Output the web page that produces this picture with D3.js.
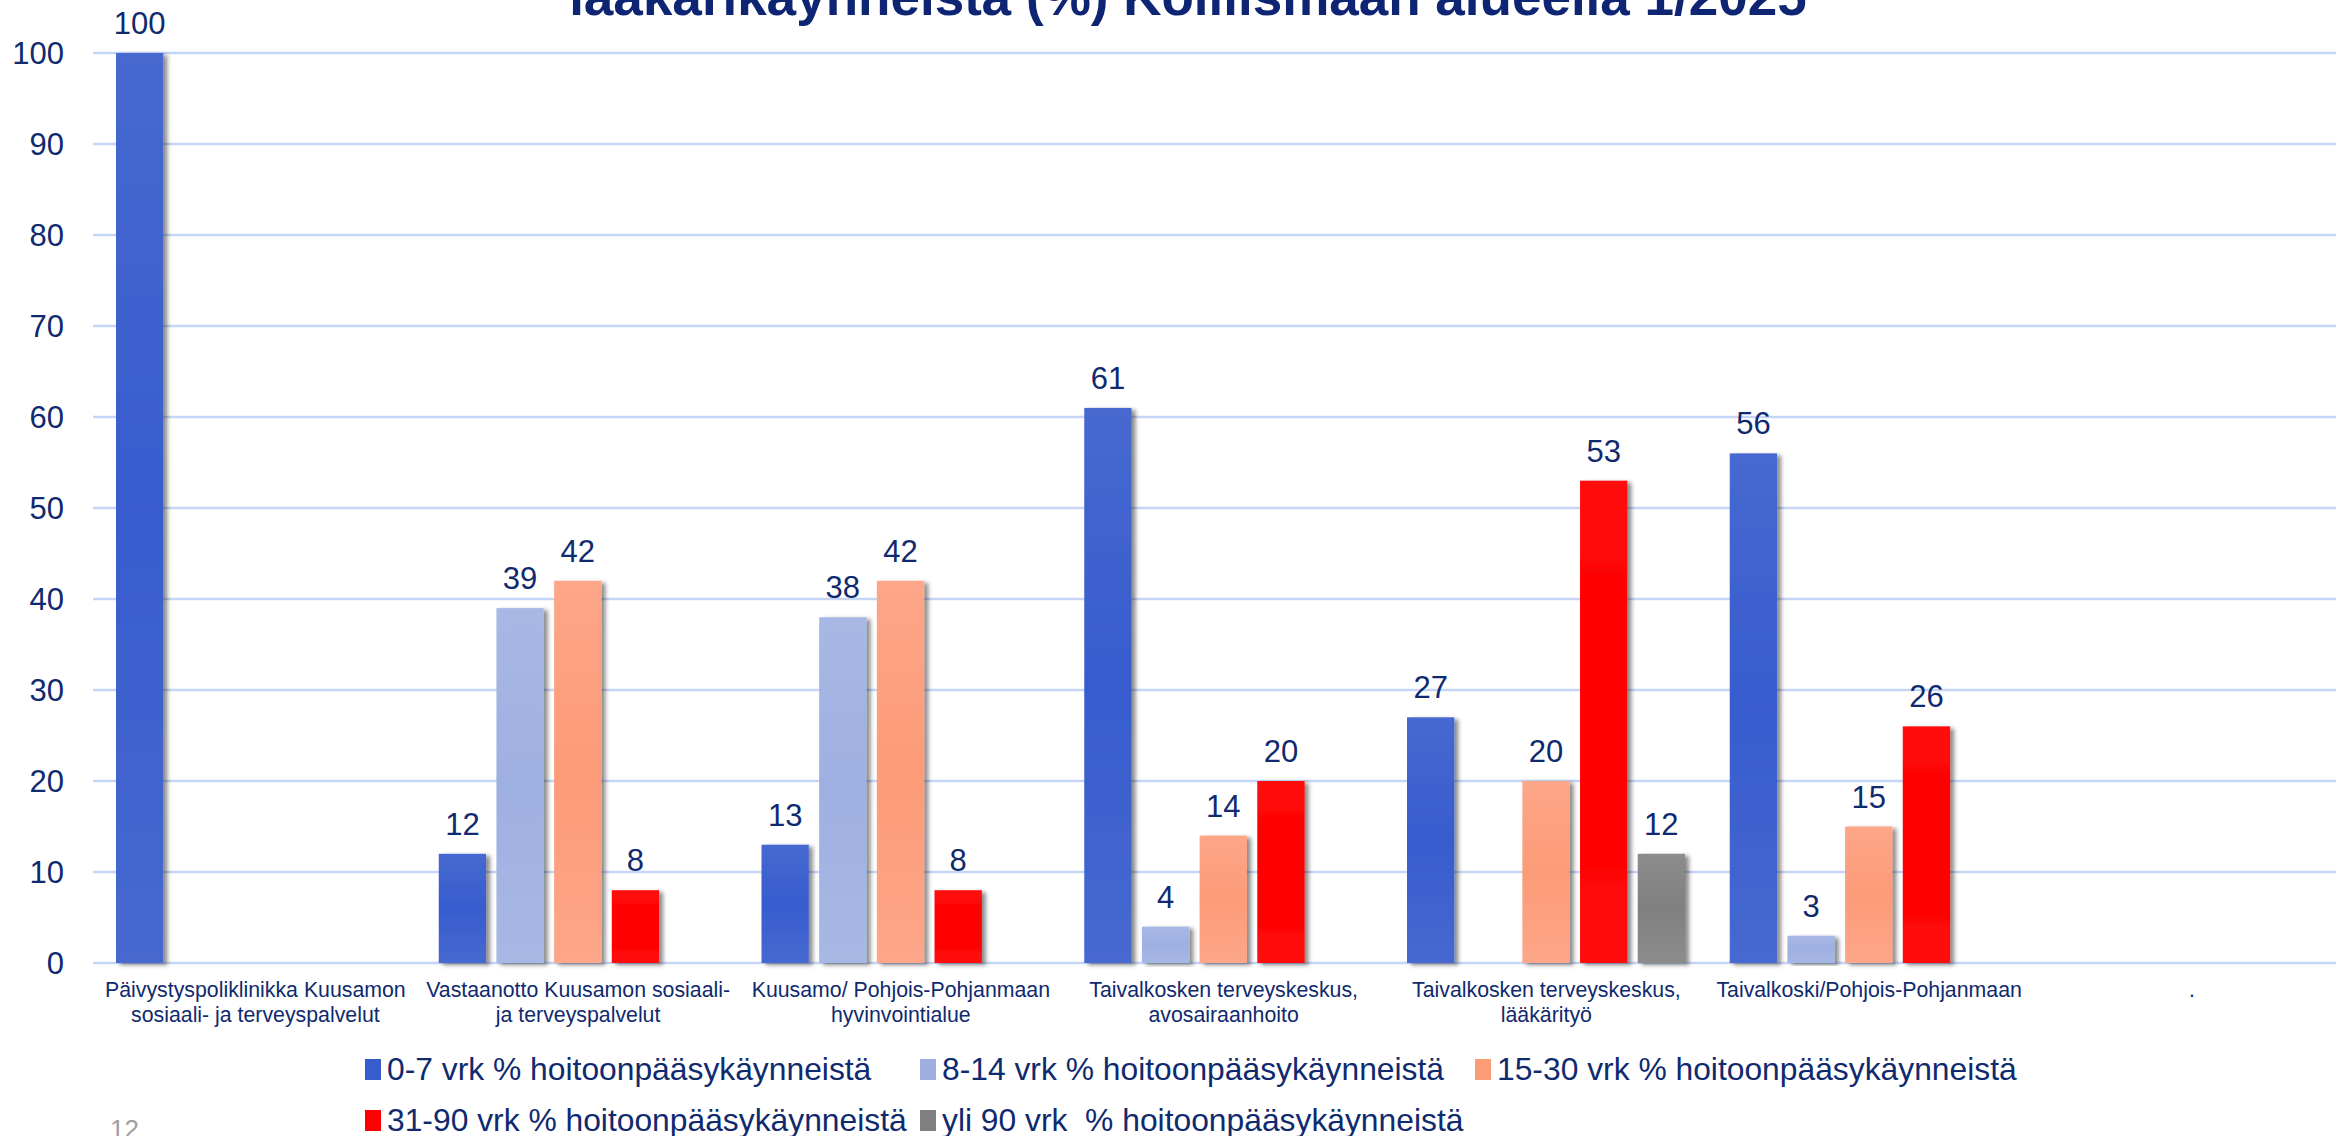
<!DOCTYPE html>
<html>
<head>
<meta charset="utf-8">
<script src="https://cdn.jsdelivr.net/npm/d3@7"></script>
<style>
  html, body { margin: 0; padding: 0; background: #fff; }
  svg { display: block; font-family: "Liberation Sans", Arial, sans-serif; }
</style>
</head>
<body>
<div id="chart"></div>
<script>
// categories (each label split into lines)
const categories = [
  ["Päivystyspoliklinikka Kuusamon", "sosiaali- ja terveyspalvelut"],
  ["Vastaanotto Kuusamon sosiaali-", "ja terveyspalvelut"],
  ["Kuusamo/ Pohjois-Pohjanmaan", "hyvinvointialue"],
  ["Taivalkosken terveyskeskus,", "avosairaanhoito"],
  ["Taivalkosken terveyskeskus,", "lääkärityö"],
  ["Taivalkoski/Pohjois-Pohjanmaan"],
  ["."]
];

const seriesNames = [
  "0-7 vrk % hoitoonpääsykäynneistä",
  "8-14 vrk % hoitoonpääsykäynneistä",
  "15-30 vrk % hoitoonpääsykäynneistä",
  "31-90 vrk % hoitoonpääsykäynneistä",
  "yli 90 vrk  % hoitoonpääsykäynneistä"
];

// values per series (null = no bar)
const vrk0_7   = [100, 12, 13, 61, 27, 56, null];
const vrk8_14  = [null, 39, 38, 4, null, 3, null];
const vrk15_30 = [null, 42, 42, 14, 20, 15, null];
const vrk31_90 = [null, 8, 8, 20, 53, 26, null];
const vrkYli90 = [null, null, null, null, 12, null, null];

const yTicks = [0, 10, 20, 30, 40, 50, 60, 70, 80, 90, 100];

const seriesValues = [vrk0_7, vrk8_14, vrk15_30, vrk31_90, vrkYli90];
const colors = ["#375cce", "#9eafe1", "#fc9b78", "#ff0000", "#808080"];
const lighter = ["#4669d0", "#a8b8e5", "#fda689", "#ff0a0a", "#8c8c8c"];

const width = 2336, height = 1136;
const navy = "#0f2a6e";

const svg = d3.select("#chart").append("svg")
  .attr("width", width)
  .attr("height", height);

const defs = svg.append("defs");
const shadow = defs.append("filter")
  .attr("id", "shadow")
  .attr("x", "-20%").attr("y", "-5%")
  .attr("width", "160%").attr("height", "115%");
shadow.append("feDropShadow")
  .attr("dx", 4).attr("dy", 2)
  .attr("stdDeviation", 2)
  .attr("flood-color", "#000")
  .attr("flood-opacity", 0.45);

seriesValues.forEach((s, i) => {
  const g = defs.append("linearGradient")
    .attr("id", "grad" + i)
    .attr("x1", 0).attr("y1", 0).attr("x2", 0).attr("y2", 1);
  g.append("stop").attr("offset", "0%").attr("stop-color", lighter[i]);
  g.append("stop").attr("offset", "50%").attr("stop-color", colors[i]);
  g.append("stop").attr("offset", "100%").attr("stop-color", lighter[i]);
});

// scales
const x0 = d3.scaleBand()
  .domain(d3.range(categories.length))
  .range([94, 94 + 322.75 * categories.length])
  .padding(0);

const x1 = d3.scaleBand()
  .domain(d3.range(seriesValues.length))
  .range([22, 300])
  .paddingInner(0.18);

const y = d3.scaleLinear()
  .domain([0, 100])
  .range([963, 53]);

// gridlines
svg.append("g")
  .selectAll("line")
  .data(yTicks)
  .join("line")
  .attr("x1", 93)
  .attr("x2", width)
  .attr("y1", d => y(d))
  .attr("y2", d => y(d))
  .attr("stroke", "#c6d5f6")
  .attr("stroke-width", 2.5);

// y axis labels
svg.append("g")
  .selectAll("text")
  .data(yTicks)
  .join("text")
  .attr("x", 64)
  .attr("y", d => y(d))
  .attr("dy", "0.36em")
  .attr("text-anchor", "end")
  .attr("fill", navy)
  .attr("font-size", "31px")
  .text(d => d);

// bars
const flat = [];
seriesValues.forEach((s, si) => {
  s.forEach((v, ci) => {
    if (v !== null) flat.push({ si, ci, v });
  });
});

svg.append("g")
  .selectAll("rect")
  .data(flat)
  .join("rect")
  .attr("x", d => x0(d.ci) + x1(d.si))
  .attr("y", d => y(d.v))
  .attr("width", x1.bandwidth())
  .attr("height", d => y(0) - y(d.v))
  .attr("fill", d => "url(#grad" + d.si + ")")
  .attr("filter", "url(#shadow)");

// value labels
svg.append("g")
  .selectAll("text")
  .data(flat)
  .join("text")
  .attr("x", d => x0(d.ci) + x1(d.si) + x1.bandwidth() / 2)
  .attr("y", d => y(d.v) - 19)
  .attr("text-anchor", "middle")
  .attr("fill", navy)
  .attr("font-size", "31px")
  .text(d => d.v);

// category labels
const catLabels = svg.append("g")
  .selectAll("text")
  .data(categories)
  .join("text")
  .attr("text-anchor", "middle")
  .attr("fill", navy)
  .attr("font-size", "21.3px");

catLabels.each(function (lines, i) {
  const t = d3.select(this);
  lines.forEach((line, k) => {
    t.append("tspan")
      .attr("x", x0(i) + x0.bandwidth() / 2)
      .attr("y", 997 + k * 24.5)
      .text(line);
  });
});

// title (only the lower line is visible)
svg.append("text")
  .attr("x", 1188)
  .attr("y", 15)
  .attr("text-anchor", "middle")
  .attr("fill", "#0d2573")
  .attr("font-size", "53px")
  .attr("font-weight", "bold")
  .text("lääkärikäynneistä (%) Koillismaan alueella 1/2025");

// legend
const legendItems = seriesNames.map((name, i) => ({
  name,
  color: colors[i],
  col: i < 3 ? i : i - 3,
  row: i < 3 ? 0 : 1
}));

const legend = svg.append("g")
  .selectAll("g")
  .data(legendItems)
  .join("g")
  .attr("transform", d => `translate(${365 + d.col * 555},${1080 + d.row * 51})`);

legend.append("rect")
  .attr("x", 0)
  .attr("y", -21)
  .attr("width", 16)
  .attr("height", 21)
  .attr("fill", d => d.color);

legend.append("text")
  .attr("x", 22)
  .attr("y", 0)
  .attr("fill", navy)
  .attr("font-size", "31.8px")
  .attr("xml:space", "preserve")
  .style("white-space", "pre")
  .text(d => d.name);

// slide number
svg.append("text")
  .attr("x", 110)
  .attr("y", 1138)
  .attr("fill", "#a0a0a0")
  .attr("font-size", "26px")
  .text("12");
</script>
</body>
</html>
